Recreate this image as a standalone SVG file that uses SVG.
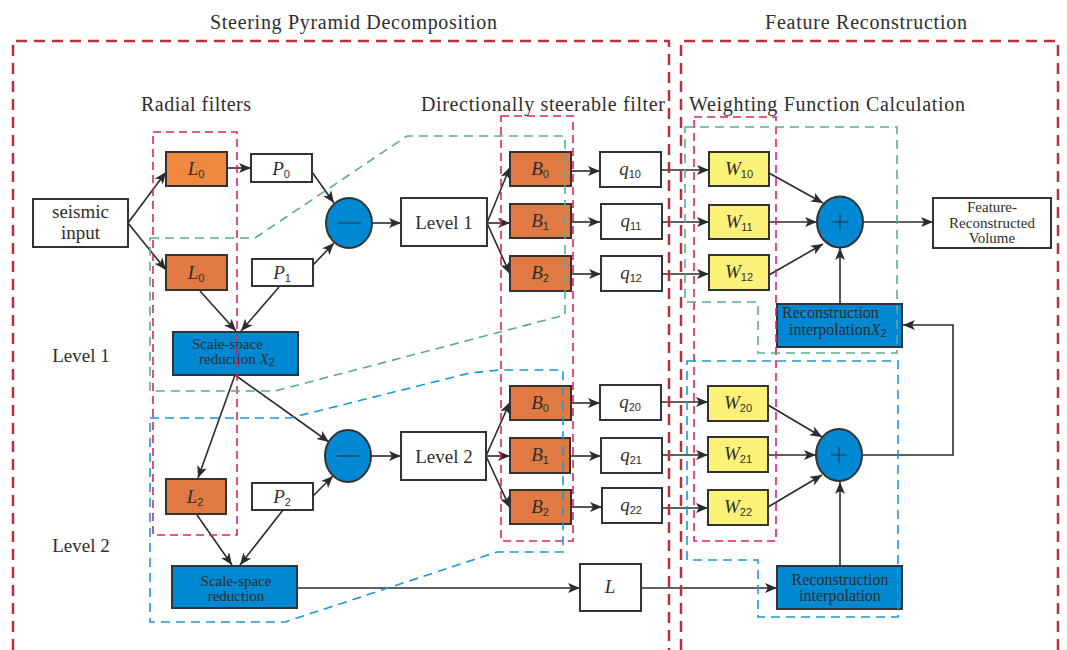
<svg xmlns="http://www.w3.org/2000/svg" width="1067" height="650" viewBox="0 0 1067 650">
<style>
.bg{fill:#ffffff}
.nd{stroke:#333;stroke-width:2}
.wh{fill:#ffffff}
.or{fill:#e07a42}
.or0{fill:#f0883f}
.bl{fill:#0088d2}
.ye{fill:#fcf27a}
.t{font-family:"Liberation Serif","Times New Roman",serif;fill:#2e2e2e}
.ti{font-family:"Liberation Serif","Times New Roman",serif;font-style:italic;fill:#2e2e2e;font-size:19px}
.sub{font-family:"Liberation Sans",Arial,sans-serif;font-style:normal;font-size:11px}
.cn{stroke:#2b2b2b;stroke-width:1.6;fill:none;marker-end:url(#ah)}
.sign{stroke:#333;stroke-width:1;fill:none}
.outer{fill:none;stroke:#b8323c;stroke-width:2.5;stroke-dasharray:11 7}
.pink{fill:none;stroke:#e0245c;stroke-width:1.6;stroke-dasharray:8 5}
.green{fill:none;stroke:#5aab94;stroke-width:1.6;stroke-dasharray:9 6}
.blue{fill:none;stroke:#1a98d8;stroke-width:1.6;stroke-dasharray:9 6}
</style>
<defs>
<marker id="ah" viewBox="0 0 12 10" refX="12" refY="5" markerWidth="13" markerHeight="10" markerUnits="userSpaceOnUse" orient="auto">
<path d="M0,0 L12,5 L0,10 L3,5 z" fill="#2b2b2b"/>
</marker>
</defs>
<rect class="bg" x="0" y="0" width="1067" height="650"/>

<g id="titles">
<text class="t" x="210" y="29" font-size="20" textLength="287" lengthAdjust="spacing">Steering Pyramid Decomposition</text>
<text class="t" x="765" y="29" font-size="20" textLength="202" lengthAdjust="spacing">Feature Reconstruction</text>
<text class="t" x="141" y="111" font-size="20" textLength="110" lengthAdjust="spacing">Radial filters</text>
<text class="t" x="421" y="111" font-size="20" textLength="244" lengthAdjust="spacing">Directionally steerable filter</text>
<text class="t" x="689" y="111" font-size="20" textLength="276" lengthAdjust="spacing">Weighting Function Calculation</text>
<text class="t" x="81" y="362" font-size="19" text-anchor="middle">Level 1</text>
<text class="t" x="81" y="552" font-size="19" text-anchor="middle">Level 2</text>
</g>

<g id="connectors">
<line class="cn" x1="128" y1="223" x2="166" y2="172"/>
<line class="cn" x1="128" y1="223" x2="166" y2="270"/>
<line class="cn" x1="227" y1="168" x2="251" y2="168"/>
<line class="cn" x1="312" y1="172" x2="334" y2="203"/>
<line class="cn" x1="313" y1="265" x2="334" y2="243"/>
<line class="cn" x1="200" y1="291" x2="236" y2="331"/>
<line class="cn" x1="279" y1="287" x2="241" y2="331"/>
<line class="cn" x1="372" y1="223" x2="401" y2="223"/>
<line class="cn" x1="487" y1="223" x2="510" y2="167"/>
<line class="cn" x1="487" y1="223" x2="510" y2="223"/>
<line class="cn" x1="487" y1="223" x2="510" y2="274"/>
<line class="cn" x1="571" y1="171" x2="600" y2="171"/>
<line class="cn" x1="571" y1="222" x2="600" y2="222"/>
<line class="cn" x1="571" y1="274" x2="601" y2="274"/>
<line class="cn" x1="661" y1="170" x2="709" y2="170"/>
<line class="cn" x1="662" y1="222" x2="709" y2="222"/>
<line class="cn" x1="662" y1="274" x2="709" y2="274"/>
<line class="cn" x1="769" y1="173" x2="823" y2="203"/>
<line class="cn" x1="769" y1="222" x2="817" y2="222"/>
<line class="cn" x1="769" y1="275" x2="823" y2="244"/>
<line class="cn" x1="840" y1="304" x2="840" y2="248"/>
<line class="cn" x1="863" y1="222" x2="933" y2="222"/>
<line class="cn" x1="235" y1="375" x2="198" y2="478"/>
<line class="cn" x1="235" y1="375" x2="329" y2="442"/>
<line class="cn" x1="197" y1="515" x2="232" y2="565"/>
<line class="cn" x1="283" y1="510" x2="240" y2="565"/>
<line class="cn" x1="313" y1="496" x2="333" y2="476"/>
<line class="cn" x1="371" y1="456" x2="401" y2="456"/>
<line class="cn" x1="486" y1="456" x2="510" y2="402"/>
<line class="cn" x1="486" y1="456" x2="510" y2="456"/>
<line class="cn" x1="486" y1="456" x2="510" y2="508"/>
<line class="cn" x1="571" y1="403" x2="600" y2="403"/>
<line class="cn" x1="571" y1="456" x2="601" y2="456"/>
<line class="cn" x1="571" y1="507" x2="602" y2="507"/>
<line class="cn" x1="661" y1="402" x2="708" y2="402"/>
<line class="cn" x1="662" y1="455" x2="708" y2="455"/>
<line class="cn" x1="662" y1="508" x2="708" y2="508"/>
<line class="cn" x1="768" y1="405" x2="822" y2="437"/>
<line class="cn" x1="768" y1="455" x2="816" y2="455"/>
<line class="cn" x1="768" y1="507" x2="822" y2="475"/>
<line class="cn" x1="840" y1="566" x2="840" y2="482"/>
<path class="cn" d="M862,455 H953 V325 H903"/>
<line class="cn" x1="297" y1="588" x2="580" y2="588"/>
<line class="cn" x1="641" y1="588" x2="777" y2="588"/>
</g>

<g id="seismic-input">
<rect class="nd wh" x="33" y="199" width="95" height="48"/>
<text class="t" x="80.5" y="218" font-size="19" text-anchor="middle">seismic</text>
<text class="t" x="80.5" y="239" font-size="19" text-anchor="middle">input</text>
</g>
<g id="L0-a"><rect class="nd or0" x="166" y="152" width="61" height="34"/><text class="ti" x="196" y="175" text-anchor="middle">L<tspan class="sub" dy="3">0</tspan></text></g>
<g id="L0-b"><rect class="nd or" x="166" y="255" width="61" height="35"/><text class="ti" x="196" y="279" text-anchor="middle">L<tspan class="sub" dy="3">0</tspan></text></g>
<g id="P0"><rect class="nd wh" x="251" y="154" width="61" height="28"/><text class="ti" x="281" y="175" text-anchor="middle">P<tspan class="sub" dy="3">0</tspan></text></g>
<g id="P1"><rect class="nd wh" x="252" y="259" width="61" height="27"/><text class="ti" x="282" y="279" text-anchor="middle">P<tspan class="sub" dy="3">1</tspan></text></g>
<g id="minus-1"><ellipse class="nd bl" cx="349" cy="223" rx="23" ry="25"/><line class="sign" x1="338" y1="223" x2="361" y2="223"/></g>
<g id="scale-space-1">
<rect class="nd bl" x="173" y="332" width="125" height="43"/>
<text class="t" x="192" y="349" font-size="15">Scale-space</text>
<text class="t" x="199" y="364" font-size="15">reduction <tspan font-style="italic">X</tspan><tspan class="sub" font-size="9" dy="2">2</tspan></text>
</g>
<g id="level-1"><rect class="nd wh" x="401" y="198" width="86" height="48"/><text class="t" x="444" y="229" font-size="19" text-anchor="middle">Level 1</text></g>
<g id="B0-1"><rect class="nd or" x="510" y="152" width="61" height="34"/><text class="ti" x="540" y="175" text-anchor="middle">B<tspan class="sub" dy="3">0</tspan></text></g>
<g id="B1-1"><rect class="nd or" x="510" y="204" width="61" height="34"/><text class="ti" x="540" y="227" text-anchor="middle">B<tspan class="sub" dy="3">1</tspan></text></g>
<g id="B2-1"><rect class="nd or" x="510" y="256" width="61" height="35"/><text class="ti" x="540" y="279" text-anchor="middle">B<tspan class="sub" dy="3">2</tspan></text></g>
<g id="q10"><rect class="nd wh" x="600" y="152" width="61" height="35"/><text class="ti" x="630" y="175" text-anchor="middle">q<tspan class="sub" dy="3">10</tspan></text></g>
<g id="q11"><rect class="nd wh" x="601" y="204" width="61" height="35"/><text class="ti" x="631" y="227" text-anchor="middle">q<tspan class="sub" dy="3">11</tspan></text></g>
<g id="q12"><rect class="nd wh" x="601" y="256" width="61" height="35"/><text class="ti" x="631" y="279" text-anchor="middle">q<tspan class="sub" dy="3">12</tspan></text></g>
<g id="W10"><rect class="nd ye" x="709" y="152" width="60" height="34"/><text class="ti" x="739" y="175" text-anchor="middle">W<tspan class="sub" dy="3">10</tspan></text></g>
<g id="W11"><rect class="nd ye" x="709" y="205" width="60" height="34"/><text class="ti" x="739" y="228" text-anchor="middle">W<tspan class="sub" dy="3">11</tspan></text></g>
<g id="W12"><rect class="nd ye" x="709" y="255" width="60" height="35"/><text class="ti" x="739" y="278" text-anchor="middle">W<tspan class="sub" dy="3">12</tspan></text></g>
<g id="plus-1"><ellipse class="nd bl" cx="840" cy="222" rx="23" ry="25.5"/><line class="sign" x1="832" y1="222" x2="848" y2="222"/><line class="sign" x1="840" y1="214" x2="840" y2="230"/></g>
<g id="feature-volume">
<rect class="nd wh" x="933" y="198" width="118" height="50"/>
<text class="t" x="992" y="212" font-size="15" text-anchor="middle">Feature-</text>
<text class="t" x="992" y="228" font-size="15" text-anchor="middle">Reconstructed</text>
<text class="t" x="992" y="243" font-size="15" text-anchor="middle">Volume</text>
</g>
<g id="recon-interp-x2">
<rect class="nd bl" x="777" y="304" width="125" height="43"/>
<text class="t" x="782" y="318" font-size="16">Reconstruction</text>
<text class="t" x="789" y="335" font-size="16">interpolation<tspan font-style="italic">X</tspan><tspan class="sub" font-size="9" dy="2">2</tspan></text>
</g>

<g id="minus-2"><ellipse class="nd bl" cx="348" cy="456" rx="23" ry="26"/><line class="sign" x1="337" y1="456" x2="360" y2="456"/></g>
<g id="L2"><rect class="nd or" x="166" y="479" width="60" height="35"/><text class="ti" x="195" y="503" text-anchor="middle">L<tspan class="sub" dy="3">2</tspan></text></g>
<g id="P2"><rect class="nd wh" x="252" y="483" width="61" height="27"/><text class="ti" x="282" y="503" text-anchor="middle">P<tspan class="sub" dy="3">2</tspan></text></g>
<g id="scale-space-2">
<rect class="nd bl" x="172" y="566" width="125" height="42"/>
<text class="t" x="236" y="586" font-size="15" text-anchor="middle">Scale-space</text>
<text class="t" x="236" y="601" font-size="15" text-anchor="middle">reduction</text>
</g>
<g id="level-2"><rect class="nd wh" x="401" y="432" width="85" height="48"/><text class="t" x="444" y="463" font-size="19" text-anchor="middle">Level 2</text></g>
<g id="B0-2"><rect class="nd or" x="510" y="386" width="61" height="34"/><text class="ti" x="540" y="409" text-anchor="middle">B<tspan class="sub" dy="3">0</tspan></text></g>
<g id="B1-2"><rect class="nd or" x="510" y="438" width="60" height="35"/><text class="ti" x="540" y="461" text-anchor="middle">B<tspan class="sub" dy="3">1</tspan></text></g>
<g id="B2-2"><rect class="nd or" x="510" y="490" width="61" height="34"/><text class="ti" x="540" y="513" text-anchor="middle">B<tspan class="sub" dy="3">2</tspan></text></g>
<g id="q20"><rect class="nd wh" x="600" y="385" width="61" height="35"/><text class="ti" x="630" y="408" text-anchor="middle">q<tspan class="sub" dy="3">20</tspan></text></g>
<g id="q21"><rect class="nd wh" x="601" y="438" width="61" height="35"/><text class="ti" x="631" y="461" text-anchor="middle">q<tspan class="sub" dy="3">21</tspan></text></g>
<g id="q22"><rect class="nd wh" x="602" y="488" width="60" height="35"/><text class="ti" x="631" y="511" text-anchor="middle">q<tspan class="sub" dy="3">22</tspan></text></g>
<g id="W20"><rect class="nd ye" x="708" y="386" width="60" height="35"/><text class="ti" x="738" y="409" text-anchor="middle">W<tspan class="sub" dy="3">20</tspan></text></g>
<g id="W21"><rect class="nd ye" x="708" y="437" width="60" height="35"/><text class="ti" x="738" y="460" text-anchor="middle">W<tspan class="sub" dy="3">21</tspan></text></g>
<g id="W22"><rect class="nd ye" x="708" y="490" width="60" height="35"/><text class="ti" x="738" y="513" text-anchor="middle">W<tspan class="sub" dy="3">22</tspan></text></g>
<g id="plus-2"><ellipse class="nd bl" cx="839" cy="455" rx="23" ry="26"/><line class="sign" x1="831" y1="455" x2="847" y2="455"/><line class="sign" x1="839" y1="447" x2="839" y2="463"/></g>
<g id="L"><rect class="nd wh" x="580" y="564" width="61" height="47"/><text class="ti" x="610" y="593" text-anchor="middle">L</text></g>
<g id="recon-interp">
<rect class="nd bl" x="777" y="566" width="125" height="43"/>
<text class="t" x="840" y="585" font-size="16" text-anchor="middle">Reconstruction</text>
<text class="t" x="840" y="601" font-size="16" text-anchor="middle">interpolation</text>
</g>

<g id="regions">
<path class="outer" d="M13,650 V41 H669 V650"/>
<path class="outer" d="M681,650 V41 H1058 V650"/>
<rect class="pink" x="153" y="132" width="84" height="403"/>
<rect class="pink" x="501" y="116" width="72" height="425"/>
<rect class="pink" x="694" y="117" width="82" height="424"/>
<path class="green" d="M150,238 H255 L407,136 H565 V315 L275,391 H150 Z"/>
<path class="green" d="M685,127 H897 V353 H758 V302 H685 Z"/>
<path class="blue" d="M150,418 H290 L470,373 L500,370 H563 V552 H497 L285,622 H150 Z"/>
<path class="blue" d="M687,361 H898 V617 H758 V560 H687 Z"/>
</g>
</svg>
